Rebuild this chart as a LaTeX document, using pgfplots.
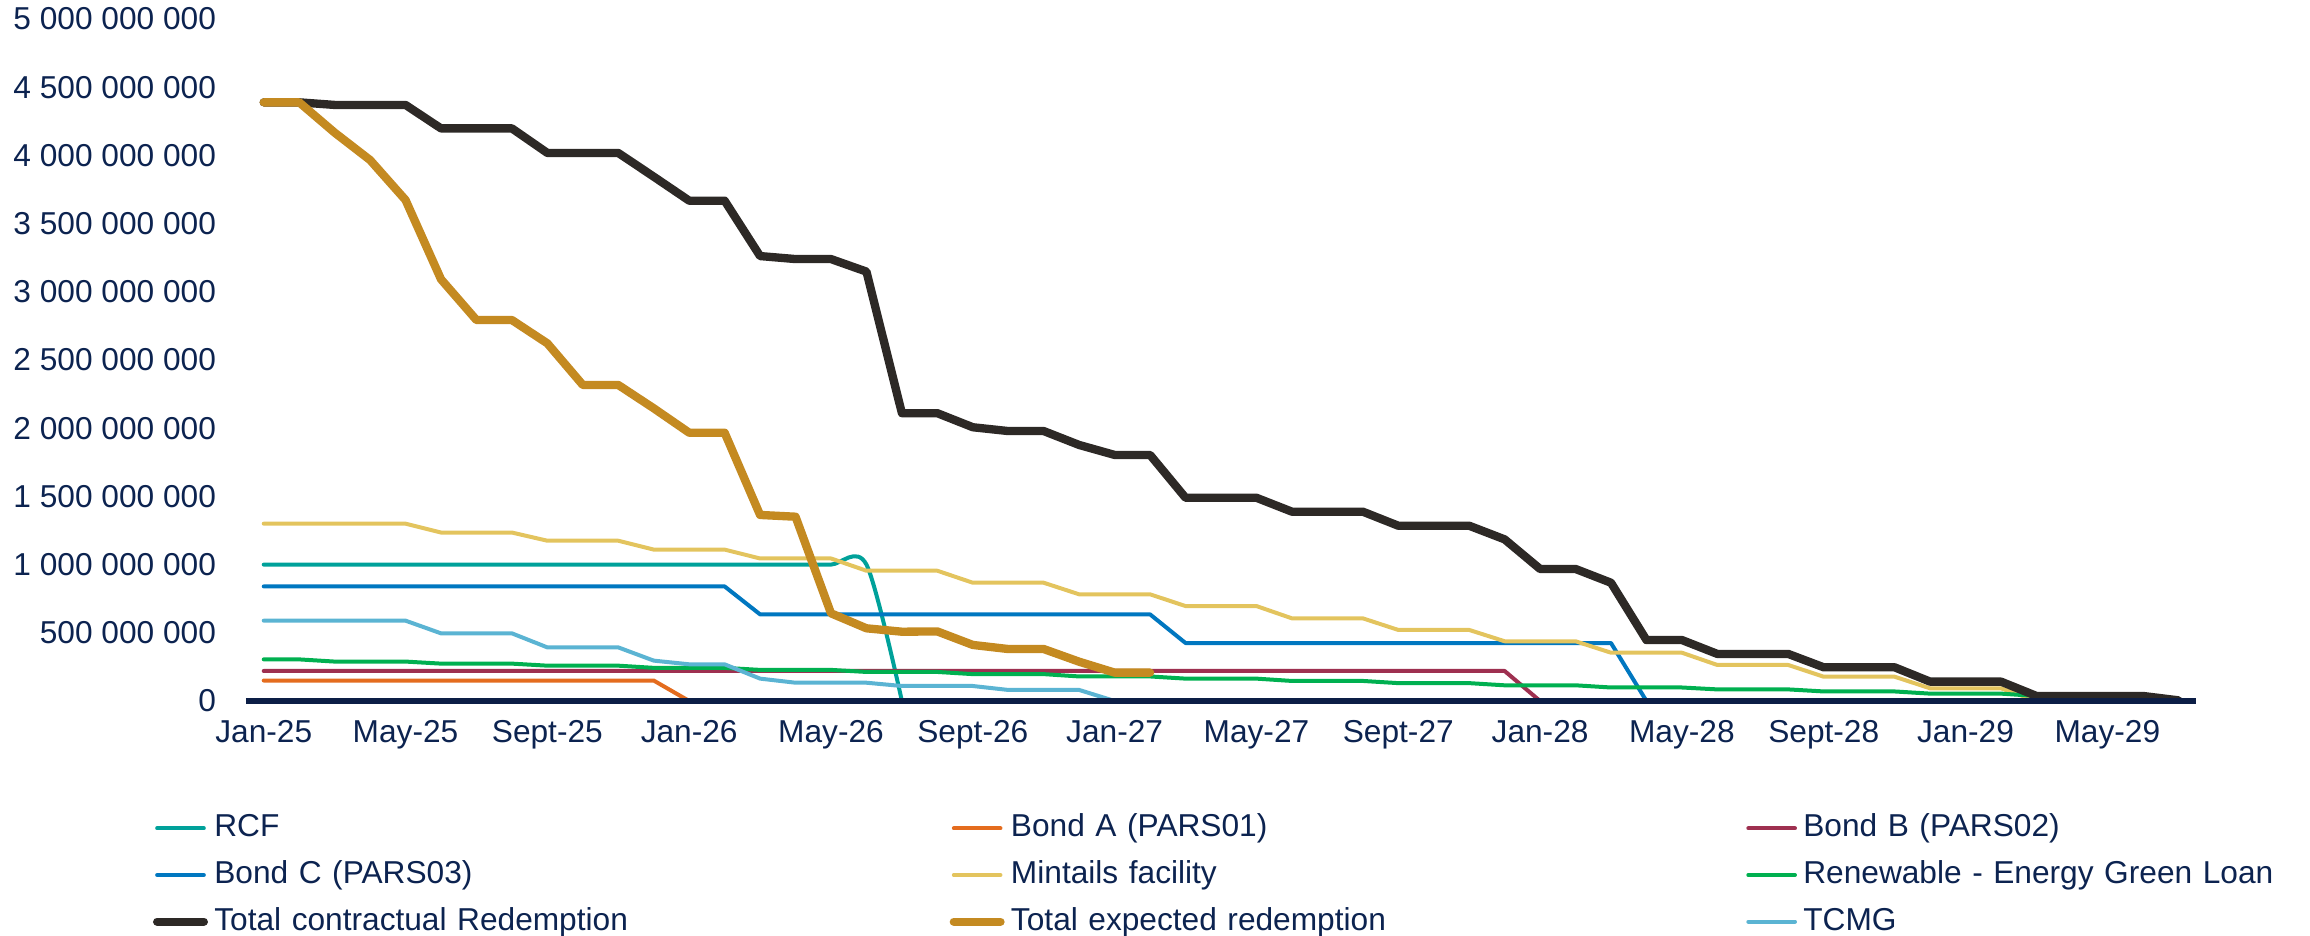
\documentclass[border=0pt]{standalone}
\usepackage{fontspec}
\setmainfont{Liberation Sans}
\usepackage{pgfplots}
\pgfplotsset{compat=1.18}
\definecolor{navytxt}{RGB}{12,35,80}
\definecolor{axisnavy}{RGB}{12,30,70}
\definecolor{rcf}{RGB}{0,161,154}
\definecolor{bonda}{RGB}{228,108,30}
\definecolor{bondb}{RGB}{158,48,80}
\definecolor{bondc}{RGB}{0,119,192}
\definecolor{mint}{RGB}{227,196,94}
\definecolor{green}{RGB}{0,176,80}
\definecolor{contr}{RGB}{45,41,38}
\definecolor{expct}{RGB}{196,138,33}
\definecolor{tcmg}{RGB}{91,180,211}
\begin{document}
\begin{tikzpicture}[x=1pt,y=1pt]
\path[use as bounding box] (-73.8,-70.5) rectangle (619.2,210.3);
\begin{axis}[
  at={(0,0)}, anchor=south west,
  scale only axis, width=585pt, height=204.6pt,
  xmin=-0.5, xmax=54.5, ymin=0, ymax=5000,
  axis x line*=bottom, axis y line*=left,
  x axis line style={-, color=axisnavy, line width=1.6pt},
  y axis line style={draw=none},
  axis on top,
  major tick length=0pt,
  xtick={0,4,...,52},
  xticklabels={Jan-25,May-25,Sept-25,Jan-26,May-26,Sept-26,Jan-27,May-27,Sept-27,Jan-28,May-28,Sept-28,Jan-29,May-29},
  ytick={0,500,1000,1500,2000,2500,3000,3500,4000,4500,5000},
  yticklabels={0,500 000 000,1 000 000 000,1 500 000 000,2 000 000 000,2 500 000 000,3 000 000 000,3 500 000 000,4 000 000 000,4 500 000 000,5 000 000 000},
  ticklabel style={font=\fontsize{9.5}{11}\selectfont, text=navytxt},
  yticklabel style={inner sep=0pt, anchor=east, xshift=-8.8pt},
  xticklabel style={inner sep=0pt, anchor=north, yshift=-5.7pt},
  every axis plot/.append style={line cap=round, line join=round},
  legend columns=3,
  legend style={
    at={(axis description cs:0,0)}, anchor=north west, xshift=-27.9pt, yshift=-33.7pt,
    draw=none, fill=none, inner sep=0pt, outer sep=0pt,
    font=\fontsize{9.5}{11}\selectfont, text=navytxt,
    nodes={inner sep=0pt, text width=220.6pt, align=left, text height=7pt, text depth=2pt},
    row sep=5pt,
    /tikz/every odd column/.append style={column sep=1.9pt},
  },
  legend image code/.code={\draw[#1] (0pt,0pt) -- (14pt,0pt);},
]
% RCF
\addplot[rcf, line width=1.2pt, smooth] coordinates {
(0,1000)(1,1000)(2,1000)(3,1000)(4,1000)(5,1000)(6,1000)(7,1000)(8,1000)(9,1000)
(10,1000)(11,1000)(12,1000)(13,1000)(14,1000)(15,1000)(16,1000)(17,1000)(18,0)};
\addlegendentry{RCF}
% Bond A
\addplot[bonda, line width=1.2pt] coordinates {
(0,150)(1,150)(2,150)(3,150)(4,150)(5,150)(6,150)(7,150)(8,150)(9,150)(10,150)(11,150)(12,0)};
\addlegendentry{Bond A (PARS01)}
% Bond B
\addplot[bondb, line width=1.2pt] coordinates {
(0,220)(1,220)(2,220)(3,220)(4,220)(5,220)(6,220)(7,220)(8,220)(9,220)
(10,220)(11,220)(12,220)(13,220)(14,220)(15,220)(16,220)(17,220)(18,220)(19,220)
(20,220)(21,220)(22,220)(23,220)(24,220)(25,220)(26,220)(27,220)(28,220)(29,220)
(30,220)(31,220)(32,220)(33,220)(34,220)(35,220)(36,0)};
\addlegendentry{Bond B (PARS02)}
% Bond C
\addplot[bondc, line width=1.2pt] coordinates {
(0,840)(1,840)(2,840)(3,840)(4,840)(5,840)(6,840)(7,840)(8,840)(9,840)
(10,840)(11,840)(12,840)(13,840)(14,635)(15,635)(16,635)(17,635)(18,635)(19,635)
(20,635)(21,635)(22,635)(23,635)(24,635)(25,635)(26,425)(27,425)(28,425)(29,425)
(30,425)(31,425)(32,425)(33,425)(34,425)(35,425)(36,425)(37,425)(38,425)(39,0)};
\addlegendentry{Bond C (PARS03)}
% Mintails
\addplot[mint, line width=1.2pt] coordinates {
(0,1300)(1,1300)(2,1300)(3,1300)(4,1300)(5,1235)(6,1235)(7,1235)(8,1175)(9,1175)
(10,1175)(11,1110)(12,1110)(13,1110)(14,1045)(15,1045)(16,1045)(17,955)(18,955)(19,955)
(20,867)(21,867)(22,867)(23,782)(24,782)(25,782)(26,696)(27,696)(28,696)(29,606)
(30,606)(31,606)(32,521)(33,521)(34,521)(35,438)(36,438)(37,438)(38,354)(39,354)
(40,354)(41,264)(42,264)(43,264)(44,178)(45,178)(46,178)(47,93)(48,93)(49,93)(50,0)};
\addlegendentry{Mintails facility}
% Renewable
\addplot[green, line width=1.2pt] coordinates {
(0,305)(1,305)(2,289)(3,289)(4,289)(5,274)(6,274)(7,274)(8,259)(9,259)
(10,259)(11,243)(12,243)(13,243)(14,228)(15,228)(16,228)(17,213)(18,213)(19,213)
(20,197)(21,197)(22,197)(23,180)(24,180)(25,180)(26,164)(27,164)(28,164)(29,147)
(30,147)(31,147)(32,131)(33,131)(34,131)(35,115)(36,115)(37,115)(38,99)(39,99)
(40,99)(41,85)(42,85)(43,85)(44,70)(45,70)(46,70)(47,54)(48,54)(49,54)
(50,37)(51,37)(52,37)(53,37)(54,5)};
\addlegendentry{Renewable - Energy Green Loan}
% Total contractual
\addplot[contr, line width=2.5pt] coordinates {
(0,4389)(1,4389)(2,4370)(3,4370)(4,4370)(5,4198)(6,4198)(7,4198)(8,4018)(9,4018)
(10,4018)(11,3844)(12,3668)(13,3668)(14,3262)(15,3240)(16,3240)(17,3148)(18,2110)(19,2110)
(20,2007)(21,1979)(22,1979)(23,1877)(24,1804)(25,1804)(26,1490)(27,1490)(28,1490)(29,1388)
(30,1388)(31,1388)(32,1285)(33,1285)(34,1285)(35,1185)(36,968)(37,968)(38,867)(39,447)
(40,447)(41,345)(42,345)(43,345)(44,247)(45,247)(46,247)(47,142)(48,142)(49,142)
(50,37)(51,37)(52,37)(53,37)(54,5)};
\addlegendentry{Total contractual Redemption}
% Total expected
\addplot[expct, line width=2.5pt] coordinates {
(0,4389)(1,4389)(2,4167)(3,3966)(4,3673)(5,3092)(6,2793)(7,2793)(8,2622)(9,2317)
(10,2317)(11,2146)(12,1967)(13,1967)(14,1364)(15,1351)(16,643)(17,533)(18,508)(19,510)
(20,411)(21,381)(22,381)(23,288)(24,208)(25,208)};
\addlegendentry{Total expected redemption}
% TCMG
\addplot[tcmg, line width=1.2pt] coordinates {
(0,589)(1,589)(2,589)(3,589)(4,589)(5,496)(6,496)(7,496)(8,393)(9,393)
(10,393)(11,296)(12,269)(13,269)(14,164)(15,134)(16,134)(17,134)(18,110)(19,110)
(20,110)(21,81)(22,81)(23,81)(24,0)};
\addlegendentry{TCMG}
\end{axis}
\end{tikzpicture}
\end{document}
